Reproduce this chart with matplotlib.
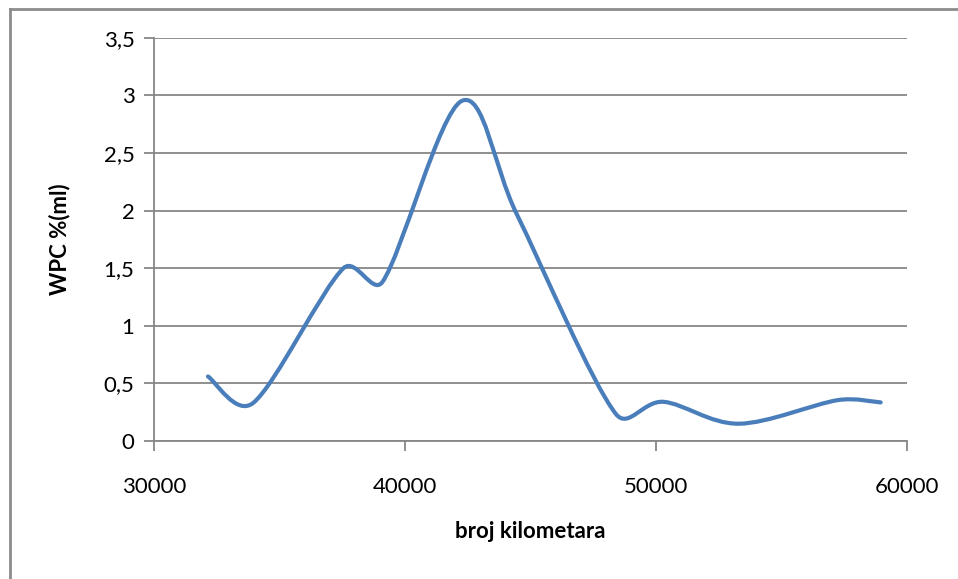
import matplotlib
matplotlib.use('Agg')
import numpy as np
import matplotlib.pyplot as plt
from matplotlib.path import Path
from matplotlib.patches import PathPatch
from matplotlib.lines import Line2D
from matplotlib.ticker import FuncFormatter

km = [32150, 33950, 37550, 39100, 42250, 44450, 48400, 50300, 53300, 57250, 58950]
wpc = [0.56, 0.33, 1.5, 1.38, 2.95, 1.97, 0.235, 0.34, 0.15, 0.355, 0.335]

x_ticks = [30000, 40000, 50000, 60000]
y_ticks = [0, 0.5, 1, 1.5, 2, 2.5, 3, 3.5]

LINE = '#4A7EBB'
GRID = '#878787'

plt.rcParams['font.family'] = ['Lato', 'DejaVu Sans']


def smooth_path(ax, xs, ys):
    # smoothed line like Excel: Catmull-Rom Bezier in pixel space,
    # handles capped so short segments do not overshoot
    P = ax.transData.transform(np.column_stack([xs, ys]))
    n = len(P)
    tang = [(P[min(i + 1, n - 1)] - P[max(i - 1, 0)]) / 6 for i in range(n)]
    verts = [P[0]]
    codes = [Path.MOVETO]
    for i in range(n - 1):
        seg = np.hypot(*(P[i + 1] - P[i]))
        t0, t1 = tang[i], tang[i + 1]
        l0, l1 = np.hypot(*t0), np.hypot(*t1)
        cap = 0.42 * seg
        if l0 > cap:
            t0 = t0 * cap / l0
        if l1 > cap:
            t1 = t1 * cap / l1
        verts += [P[i] + t0, P[i + 1] - t1, P[i + 1]]
        codes += [Path.CURVE4] * 3
    verts = ax.transData.inverted().transform(np.array(verts))
    return Path(verts, codes)


fig = plt.figure(figsize=(9.58, 5.79), dpi=100)
ax = fig.add_axes([154 / 958, 1 - 441 / 579, (907 - 154) / 958, (441 - 37.7) / 579])

ax.set_xlim(30000, 60000)
ax.set_ylim(0, 3.5)
ax.set_xticks(x_ticks)
ax.set_yticks(y_ticks)
ax.yaxis.set_major_formatter(FuncFormatter(lambda v, p: ('%g' % v).replace('.', ',')))
ax.grid(axis='y', color=GRID, lw=1.3)
ax.set_axisbelow(True)
for s in ['top', 'right']:
    ax.spines[s].set_visible(False)
for s in ['left', 'bottom']:
    ax.spines[s].set_color(GRID)
    ax.spines[s].set_linewidth(1.3)
ax.tick_params(axis='both', color=GRID, width=1.3, length=7, labelsize=16, direction='out')
ax.tick_params(axis='x', pad=19)
ax.tick_params(axis='y', pad=7)

ax.add_patch(PathPatch(smooth_path(ax, km, wpc), fill=False, edgecolor=LINE, lw=3,
                       capstyle='round', joinstyle='round', zorder=3))

ax.set_xlabel('broj kilometara', fontsize=16, fontweight='bold', labelpad=17)
ax.set_ylabel('WPC %(ml)', fontsize=16, fontweight='bold', labelpad=24)

# outer chart frame
fig.add_artist(Line2D([10 / 958, 10 / 958], [0, 1 - 9 / 579], transform=fig.transFigure, color='#8c8c8c', lw=2))
fig.add_artist(Line2D([10 / 958, 1], [1 - 9 / 579, 1 - 9 / 579], transform=fig.transFigure, color='#8c8c8c', lw=2))

fig.savefig('out.png', dpi=100)
